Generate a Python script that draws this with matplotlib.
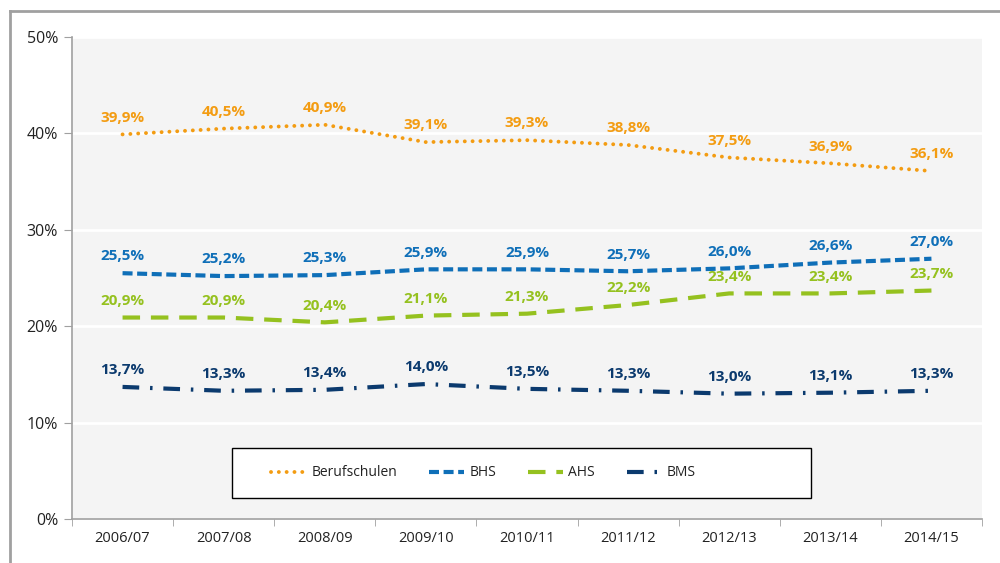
import matplotlib.pyplot as plt
from matplotlib.lines import Line2D
from matplotlib.patches import Rectangle
from matplotlib.ticker import FuncFormatter, FixedLocator

plt.rcParams["font.family"] = ["Open Sans", "DejaVu Sans"]

# school years on the x axis
years = ["2006/07", "2007/08", "2008/09", "2009/10", "2010/11",
         "2011/12", "2012/13", "2013/14", "2014/15"]

# shares in percent, per school type
berufschulen = [39.9, 40.5, 40.9, 39.1, 39.3, 38.8, 37.5, 36.9, 36.1]
bhs = [25.5, 25.2, 25.3, 25.9, 25.9, 25.7, 26.0, 26.6, 27.0]
ahs = [20.9, 20.9, 20.4, 21.1, 21.3, 22.2, 23.4, 23.4, 23.7]
bms = [13.7, 13.3, 13.4, 14.0, 13.5, 13.3, 13.0, 13.1, 13.3]

y_ticks = [0, 10, 20, 30, 40, 50]

ORANGE = "#f39c12"
BLUE = "#0f6fb8"
GREEN = "#95c11f"
NAVY = "#0b3a6e"
PANEL = "#f4f4f4"
FRAME = "#a0a0a0"
TEXT = "#222222"

series = [
    ("Berufschulen", berufschulen, ORANGE, dict(linestyle=(0, (0.01, 2.0)), dash_capstyle="round", linewidth=2.8)),
    ("BHS", bhs, BLUE, dict(linestyle=(0, (2.4, 1.1)), linewidth=3.0)),
    ("AHS", ahs, GREEN, dict(linestyle=(0, (4.2, 2.6)), linewidth=3.0)),
    ("BMS", bms, NAVY, dict(linestyle=(0, (4.0, 2.6, 0.6, 2.6)), linewidth=3.0)),
]


def pct(v):
    return f"{v:.1f}%".replace(".", ",")


fig = plt.figure(figsize=(10, 5.63), dpi=100, facecolor="white")
ax = fig.add_axes([0.072, 0.0782, 0.910, 0.856])
ax.set_facecolor(PANEL)

x = list(range(len(years)))
for name, vals, color, style in series:
    ax.plot(x, vals, color=color, label=name, zorder=3, **style)
    for xi, v in zip(x, vals):
        ax.annotate(pct(v), (xi, v), textcoords="offset points", xytext=(0, 7),
                    ha="center", va="bottom", fontsize=11, fontweight="bold",
                    color=color, zorder=4)

ax.set_xlim(-0.5, len(years) - 0.5)
ax.set_ylim(0, 50)

ax.yaxis.set_major_locator(FixedLocator(y_ticks))
ax.yaxis.set_major_formatter(FuncFormatter(lambda v, _: f"{v:.0f}%"))
ax.grid(axis="y", color="white", linewidth=2, zorder=1)
ax.set_axisbelow(True)

ax.set_xticks(x)
ax.set_xticklabels(years)
ax.set_xticks([i - 0.5 for i in range(len(years) + 1)], minor=True)
ax.tick_params(axis="x", which="major", length=0, pad=9, labelsize=10.5, labelcolor=TEXT)
ax.tick_params(axis="x", which="minor", length=5, color=FRAME, direction="out")
ax.tick_params(axis="y", length=6, color=FRAME, labelsize=11.5, labelcolor=TEXT, pad=4)

for s in ("top", "right"):
    ax.spines[s].set_visible(False)
for s in ("left", "bottom"):
    ax.spines[s].set_color(FRAME)
    ax.spines[s].set_linewidth(1.2)

# legend: white box with black edge, entries left-aligned inside it
ax.add_patch(Rectangle((0.1758, 0.0436), 0.636, 0.1037, transform=ax.transAxes,
                       facecolor="white", edgecolor="black", linewidth=1.0, zorder=5))
leg = ax.legend(loc="center left", bbox_to_anchor=(0.2187, 0.0954), ncol=4,
                fontsize=10, frameon=False, borderaxespad=0, borderpad=0,
                handlelength=2.5, handletextpad=0.4, columnspacing=2.3)
leg.set_zorder(6)
for t in leg.get_texts():
    t.set_color(TEXT)

# outer frame of the exported chart (top and left edges only)
fig.add_artist(Line2D([0.010, 1.0], [1 - 11 / 563, 1 - 11 / 563], color=FRAME, linewidth=2,
                      transform=fig.transFigure))
fig.add_artist(Line2D([0.010, 0.010], [0, 1 - 11 / 563], color=FRAME, linewidth=2,
                      transform=fig.transFigure))

fig.savefig("out.png", dpi=100, facecolor="white")
